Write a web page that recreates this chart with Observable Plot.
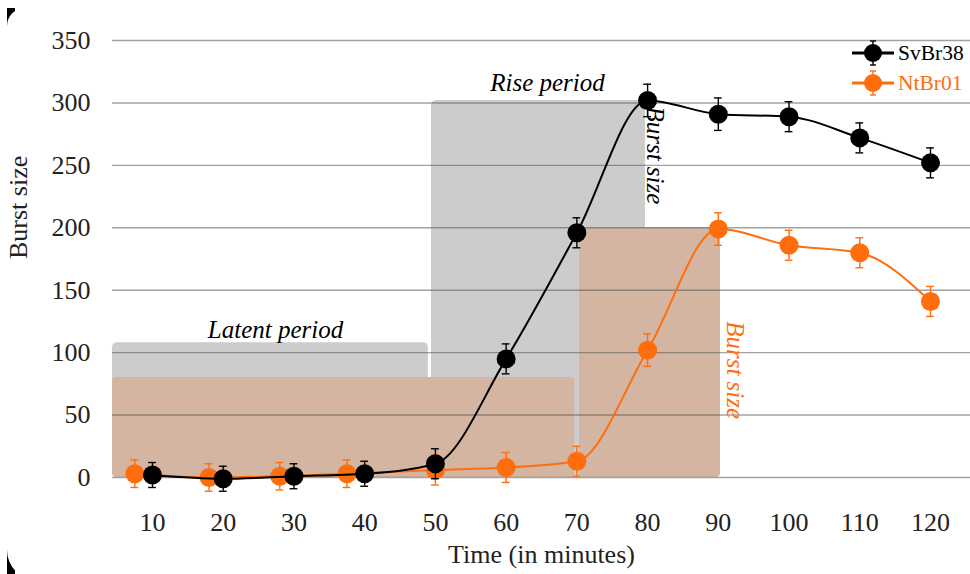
<!DOCTYPE html>
<html>
<head>
<meta charset="utf-8">
<script src="https://cdn.jsdelivr.net/npm/d3@7"></script>
<script src="https://cdn.jsdelivr.net/npm/@observablehq/plot@0.6"></script>
<style>
  html, body { margin: 0; padding: 0; background: #fff; width: 970px; height: 574px; overflow: hidden; }
  #strip { position: absolute; left: 7px; top: 8px; width: 8px; height: 570px; background: #000; }
  #inner { position: absolute; left: 7px; top: 8px; width: 1000px; height: 572px; background: #fff;
           border-top-left-radius: 18px; border-bottom-left-radius: 30px; }
  #chart { position: absolute; left: 0; top: 0; }
  .leg { position: absolute; left: 852px; height: 30px; display: flex; align-items: center;
         font-family: "Liberation Serif", serif; font-size: 21.5px; white-space: nowrap; }
  .leg svg { display: block; margin-right: 4px; }
</style>
</head>
<body>
<div id="strip"></div>
<div id="inner"></div>
<div id="chart"></div>
<div id="legend"></div>
<script>
// ---- data ----
const times = [10, 20, 30, 40, 50, 60, 70, 80, 90, 100, 110, 120];
const svbr38 = [2, -1, 1, 3, 11, 95, 196, 302, 291, 289, 272, 252];
const svbr38Err = [10, 10, 10, 10, 12, 12, 12, 13, 13, 12, 12, 12];
const ntbr01Times = [7.5, 18, 28, 37.5, 50, 60, 70, 80, 90, 100, 110, 120];
const ntbr01 = [3, 0, 1, 3, 6, 8, 13, 102, 199, 186, 180, 141];
const ntbr01Err = [11, 11, 11, 11, 12, 12, 12, 13, 13, 12, 12, 12];
const xTicks = [10, 20, 30, 40, 50, 60, 70, 80, 90, 100, 110, 120];
const yTicks = [0, 50, 100, 150, 200, 250, 300, 350];
const seriesNames = ["SvBr38", "NtBr01"];
const seriesColors = ["#000000", "#ff6d0d"];

// shaded periods (time range in minutes, height in burst size)
const grayPeriods = [
  {name: "Latent period", t1: 4.35, t2: 49.0, top: 108},
  {name: "Rise period", t1: 49.45, t2: 79.7, top: 302}
];
const brownPeriods = [
  {name: "Latent NtBr01", t1: 4.35, t2: 69.7, top: 80},
  {name: "Rise NtBr01", t1: 70.4, t2: 90.3, top: 200}
];
const annotations = [
  {label: "Latent period", t: 27.4, v: 118, angle: 0, series: 0},
  {label: "Rise period", t: 65.85, v: 316, angle: 0, series: 0},
  {label: "Burst size", t: 81.1, v: 258, angle: 90, series: 0},
  {label: "Burst size", t: 92.4, v: 86, angle: 90, series: 1}
];

// ---- build tables ----
const black = times.map((t, i) => ({time: t, value: svbr38[i], err: svbr38Err[i]}));
const orange = ntbr01Times.map((t, i) => ({time: t, value: ntbr01[i], err: ntbr01Err[i]}));

function seriesMarks(data, color) {
  return [
    Plot.line(data, {x: "time", y: "value", stroke: color, strokeWidth: 2, curve: "monotone-x"}),
    Plot.ruleX(data, {x: "time", y1: d => d.value - d.err, y2: d => d.value + d.err, stroke: color, strokeWidth: 1.4}),
    Plot.ruleY(data, {y: d => d.value + d.err, x1: d => d.time - 0.55, x2: d => d.time + 0.55, stroke: color, strokeWidth: 1.4}),
    Plot.ruleY(data, {y: d => d.value - d.err, x1: d => d.time - 0.55, x2: d => d.time + 0.55, stroke: color, strokeWidth: 1.4}),
    Plot.dot(data, {x: "time", y: "value", r: 9.5, fill: color, stroke: "none"})
  ];
}

const plot = Plot.plot({
  width: 970,
  height: 574,
  marginLeft: 112,
  marginRight: 0,
  marginTop: 40,
  marginBottom: 97,
  style: {background: "transparent", fontFamily: "'Liberation Serif', serif", fontSize: "26px", color: "#222", overflow: "visible"},
  x: {type: "linear", domain: [4.345, 125.655], ticks: xTicks, tickSize: 0, tickPadding: 35, label: null},
  y: {domain: [0, 350], ticks: yTicks, tickSize: 0, tickPadding: 22, label: null},
  marks: [
    Plot.rect(grayPeriods, {x1: "t1", x2: "t2", y1: 0, y2: "top", fill: "#cccccc", rx: 5}),
    Plot.rect(brownPeriods, {x1: "t1", x2: "t2", y1: 0, y2: "top", fill: "#d3b5a1", rx: 4}),
    Plot.ruleY(yTicks, {stroke: "#555", strokeOpacity: 0.55, strokeWidth: 1.4}),
    ...seriesMarks(orange, seriesColors[1]),
    ...seriesMarks(black, seriesColors[0]),
    Plot.text(annotations, {
      x: "t", y: "v", text: "label", rotate: "angle",
      fill: d => seriesColors[d.series],
      fontStyle: "italic", fontSize: 25, textAnchor: "middle", lineAnchor: "middle"
    }),
    Plot.text(["Time (in minutes)"], {frameAnchor: "bottom", dy: 77, lineAnchor: "middle", fontSize: 26, fill: "#222"}),
    Plot.text(["Burst size"], {frameAnchor: "left", dx: -94, rotate: -90, lineAnchor: "middle", fontSize: 26, fill: "#222"})
  ]
});
document.getElementById("chart").appendChild(plot);

// ---- legend ----
const legend = document.getElementById("legend");
const legendCenters = [53, 83];
seriesNames.forEach((name, i) => {
  const c = seriesColors[i];
  const row = document.createElement("div");
  row.className = "leg";
  row.style.top = (legendCenters[i] - 15) + "px";
  row.style.color = c;
  row.innerHTML =
    `<svg width="42" height="30" viewBox="0 0 42 30">
      <line x1="0" x2="42" y1="15" y2="15" stroke="${c}" stroke-width="3"/>
      <line x1="21" x2="21" y1="3" y2="27" stroke="${c}" stroke-width="1.4"/>
      <line x1="18" x2="24" y1="3" y2="3" stroke="${c}" stroke-width="1.4"/>
      <line x1="18" x2="24" y1="27" y2="27" stroke="${c}" stroke-width="1.4"/>
      <circle cx="21" cy="15" r="9" fill="${c}"/>
    </svg><span>${name}</span>`;
  legend.appendChild(row);
});
</script>
</body>
</html>
